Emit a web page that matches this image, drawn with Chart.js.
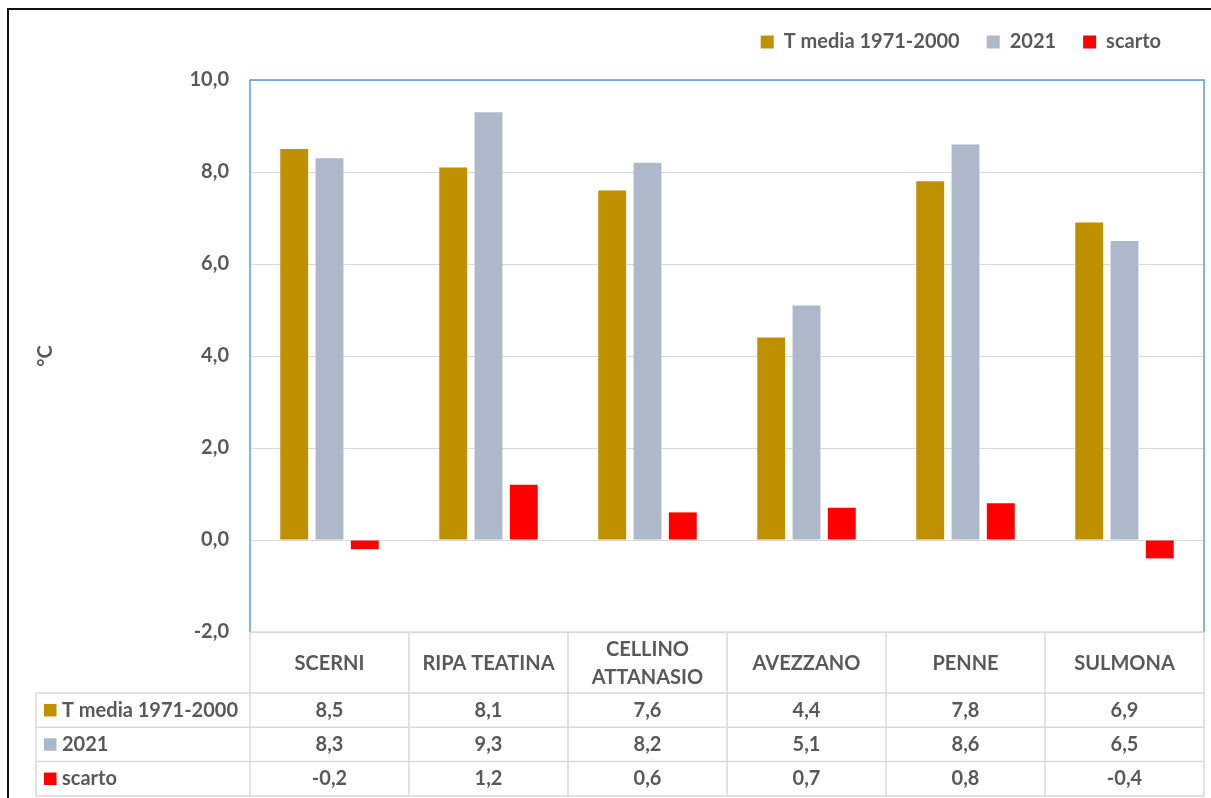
<!DOCTYPE html>
<html>
<head>
<meta charset="utf-8">
<script src="https://cdn.jsdelivr.net/npm/chart.js@4.4.1/dist/chart.umd.min.js"></script>
<style>
html,body{margin:0;padding:0;background:#fff;overflow:hidden;}
#frame{position:absolute;left:7px;top:8px;width:1400px;height:1000px;border-top:2px solid #111;border-left:2px solid #111;}
#c{position:absolute;left:0;top:0;}
</style>
</head>
<body>
<div id="frame"></div>
<canvas id="c" width="1211" height="798"></canvas>
<script>
// ---- data ----
const categories = ['SCERNI', 'RIPA TEATINA', ['CELLINO', 'ATTANASIO'], 'AVEZZANO', 'PENNE', 'SULMONA'];
const tMedia = [8.5, 8.1, 7.6, 4.4, 7.8, 6.9];
const anno2021 = [8.3, 9.3, 8.2, 5.1, 8.6, 6.5];
const scarto = [-0.2, 1.2, 0.6, 0.7, 0.8, -0.4];
const seriesLabels = ['T media 1971-2000', '2021', 'scarto'];
const yMin = -2, yMax = 10, yStep = 2;
const yTitle = '°C';

// ---- styles ----
const COLORS = ['#BF9000', '#ADB9CA', '#FF0000'];
const TEXT = '#595959';
const GRID = '#D9D9D9';
const BLUE = '#5B9BD5';
const FONT = 'Lato';
const FS = 20;

const fmt = v => v.toFixed(1).replace('.', ',');
const seriesData = [tMedia, anno2021, scarto];

const tablePlugin = {
  id: 'dataTable',
  afterLayout(chart) {
    const lg = chart.legend;
    if (lg) {
      const dy = 18, dx = 16;
      lg.top -= dy; lg.bottom -= dy;
      lg.left -= dx; lg.right -= dx;
    }
  },
  afterDraw(chart) {
    const { ctx, chartArea: ca, scales: { x } } = chart;
    const n = categories.length;
    const headTop = ca.bottom;
    const headBot = headTop + 61;
    const rowH = 34.3;
    const tableLeft = 36;
    const bottom = headBot + rowH * seriesData.length;
    ctx.save();
    // plot area border (blue)
    ctx.strokeStyle = BLUE;
    ctx.lineWidth = 1.5;
    ctx.beginPath();
    ctx.moveTo(ca.left, ca.bottom);
    ctx.lineTo(ca.left, ca.top);
    ctx.lineTo(ca.right, ca.top);
    ctx.lineTo(ca.right, ca.bottom);
    ctx.stroke();
    // table grid
    ctx.strokeStyle = GRID;
    ctx.lineWidth = 1.5;
    ctx.beginPath();
    ctx.moveTo(ca.left, headTop); ctx.lineTo(ca.right, headTop);
    for (let r = 0; r <= seriesData.length; r++) {
      const yy = headBot + rowH * r;
      ctx.moveTo(tableLeft, yy); ctx.lineTo(ca.right, yy);
    }
    ctx.moveTo(tableLeft, headBot); ctx.lineTo(tableLeft, bottom);
    ctx.moveTo(ca.left, headTop); ctx.lineTo(ca.left, bottom);
    for (let i = 0; i < n - 1; i++) {
      const xx = (x.getPixelForValue(i) + x.getPixelForValue(i + 1)) / 2;
      ctx.moveTo(xx, headTop); ctx.lineTo(xx, bottom);
    }
    ctx.moveTo(ca.right, headTop); ctx.lineTo(ca.right, bottom);
    ctx.stroke();
    // table text
    ctx.font = 'bold ' + FS + 'px ' + FONT;
    ctx.fillStyle = TEXT;
    ctx.textBaseline = 'middle';
    seriesData.forEach((arr, r) => {
      const cy = headBot + rowH * (r + 0.5);
      ctx.fillStyle = COLORS[r];
      ctx.fillRect(tableLeft + 8, cy - 6.2, 12.5, 12.5);
      ctx.fillStyle = TEXT;
      ctx.textAlign = 'left';
      ctx.fillText(seriesLabels[r], tableLeft + 26, cy);
      ctx.textAlign = 'center';
      arr.forEach((v, i) => {
        ctx.fillText(fmt(v), x.getPixelForValue(i), cy);
      });
    });
    ctx.restore();
  }
};

new Chart(document.getElementById('c'), {
  type: 'bar',
  data: {
    labels: categories,
    datasets: seriesData.map((d, k) => ({
      label: seriesLabels[k],
      data: d,
      backgroundColor: COLORS[k],
      borderWidth: 0,
      categoryPercentage: 0.666,
      barPercentage: 0.79
    }))
  },
  options: {
    responsive: false,
    animation: false,
    devicePixelRatio: 1,
    layout: { padding: { top: 23, right: 7, left: 0, bottom: 0 } },
    plugins: {
      legend: {
        position: 'top',
        align: 'end',
        labels: {
          boxWidth: 13, boxHeight: 13, padding: 27,
          color: TEXT,
          font: { family: FONT, size: FS, weight: 'bold' }
        }
      },
      tooltip: { enabled: false }
    },
    scales: {
      x: {
        grid: { display: false, drawTicks: false },
        border: { display: false },
        ticks: {
          color: TEXT,
          font: { family: FONT, size: FS, weight: 'bold', lineHeight: 1.4 },
          padding: 18,
          crossAlign: 'center',
          maxRotation: 0, autoSkip: false
        },
        afterFit(s) { s.height = 166; }
      },
      y: {
        min: yMin, max: yMax,
        grid: { color: GRID, lineWidth: 1, drawTicks: false },
        border: { display: false },
        ticks: {
          stepSize: yStep,
          color: TEXT,
          padding: 21,
          font: { family: FONT, size: FS, weight: 'bold' },
          callback: v => fmt(v)
        },
        title: {
          display: true, text: yTitle, color: TEXT,
          font: { family: FONT, size: FS, weight: 'bold' },
          padding: { top: 34, bottom: 0 }
        },
        afterFit(s) { s.width = 250; }
      }
    }
  },
  plugins: [tablePlugin]
});
</script>
</body>
</html>
